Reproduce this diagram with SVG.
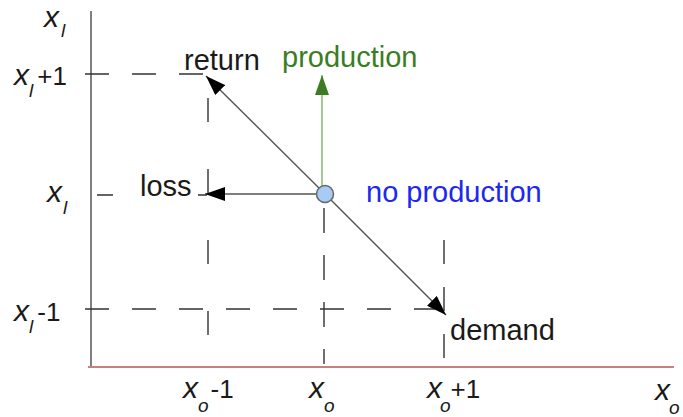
<svg xmlns="http://www.w3.org/2000/svg" width="683" height="417" viewBox="0 0 683 417">
<style>
.lbl{font-family:"Liberation Sans",Arial,sans-serif;font-size:29px;fill:#1a1a1a}
.ax{font-family:"Liberation Sans",Arial,sans-serif;fill:#1a1a1a}
.x{font-size:30px;font-style:italic}
.sub{font-size:19px;font-style:italic}
.num{font-size:26px}
.dash{stroke:#333;stroke-width:1.4;fill:none;stroke-dasharray:24 23}
.arr{stroke:#555;stroke-width:1.4;fill:none}
</style>
<defs>
<marker id="ah" viewBox="0 0 20 14" refX="20" refY="7" markerWidth="20" markerHeight="14" markerUnits="userSpaceOnUse" orient="auto">
<path d="M0,0 L20,7 L0,14 Z" fill="#000"/>
</marker>
<marker id="ahg" viewBox="0 0 20 14" refX="20" refY="7" markerWidth="20" markerHeight="14" markerUnits="userSpaceOnUse" orient="auto">
<path d="M0,0 L20,7 L0,14 Z" fill="#3a7d22"/>
</marker>
</defs>
<rect width="683" height="417" fill="#fff"/>
<g id="axes">
<line x1="91" y1="11" x2="91" y2="366" stroke="#555" stroke-width="1.5"/>
<line x1="88" y1="367" x2="674" y2="367" stroke="#c98080" stroke-width="2"/>
</g>
<g id="guides">
<line class="dash" x1="85" y1="74" x2="206" y2="74"/>
<line class="dash" x1="97" y1="195" x2="207" y2="195" style="stroke-dasharray:16 85 10"/>
<line class="dash" x1="85" y1="309" x2="440" y2="309"/>
<line class="dash" x1="208" y1="74" x2="208" y2="365" style="stroke-dasharray:0 24 24 23"/>
<line class="dash" x1="324" y1="208" x2="324" y2="364" style="stroke-dasharray:25 22"/>
<line class="dash" x1="444" y1="240" x2="444" y2="364" style="stroke-dasharray:24 23"/>
</g>
<g id="connectors">
<line class="arr" x1="325" y1="194" x2="206" y2="76" marker-end="url(#ah)"/>
<line class="arr" x1="317" y1="194" x2="205" y2="194" marker-end="url(#ah)"/>
<line class="arr" x1="325" y1="194" x2="446" y2="315" marker-end="url(#ah)"/>
<line x1="322" y1="186" x2="322" y2="75" stroke="#86c27a" stroke-width="1.6" marker-end="url(#ahg)"/>
</g>
<g id="state">
<circle cx="325" cy="194" r="8.5" fill="#a7cbf3" stroke="#666" stroke-width="1.5"/>
</g>
<g id="labels">
<text class="lbl" x="184" y="70">return</text>
<text class="lbl" x="282" y="67" style="fill:#3a7d22">production</text>
<text class="lbl" x="140" y="196">loss</text>
<text class="lbl" x="366" y="202" style="fill:#1c28f0">no production</text>
<text class="lbl" x="450" y="340">demand</text>
</g>
<g id="ylabels" class="ax">
<text x="44" y="27"><tspan class="x">x</tspan><tspan class="sub" dx="2" dy="10">l</tspan></text>
<text x="14" y="85"><tspan class="x">x</tspan><tspan class="sub" dx="0" dy="12">l</tspan><tspan class="num" dx="4" dy="-12">+1</tspan></text>
<text x="47" y="202"><tspan class="x">x</tspan><tspan class="sub" dx="1" dy="12">l</tspan></text>
<text x="14" y="321"><tspan class="x">x</tspan><tspan class="sub" dx="0" dy="12">l</tspan><tspan class="num" dx="4" dy="-12">-1</tspan></text>
</g>
<g id="xlabels" class="ax">
<text x="183" y="398"><tspan class="x">x</tspan><tspan class="sub" dx="0" dy="14">o</tspan><tspan class="num" dx="2" dy="-14">-1</tspan></text>
<text x="309" y="398"><tspan class="x">x</tspan><tspan class="sub" dx="0" dy="14">o</tspan></text>
<text x="427" y="398"><tspan class="x">x</tspan><tspan class="sub" dx="-2" dy="14">o</tspan><tspan class="num" dx="0" dy="-14">+1</tspan></text>
<text x="655" y="400"><tspan class="x">x</tspan><tspan class="sub" dx="-1" dy="14">o</tspan></text>
</g>
</svg>
